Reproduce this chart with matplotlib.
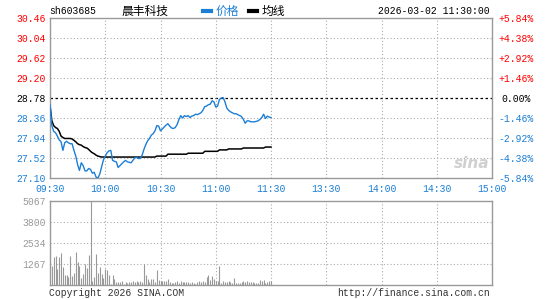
import matplotlib
matplotlib.use("Agg")
import matplotlib.pyplot as plt
import numpy as np

plt.rcParams['font.family'] = ['Liberation Mono', 'Noto Sans CJK SC']

# chart data (one value per minute from 09:30 to 11:30)
price = [28.63, 28.20, 28.08, 28.05, 27.98, 27.90, 27.86, 27.68, 27.84, 27.87,
         27.84, 27.82, 27.82, 27.68, 27.56, 27.38, 27.26, 27.42, 27.36, 27.25,
         27.25, 27.30, 27.28, 27.20, 27.22, 27.12, 27.10, 27.18, 27.33, 27.48,
         27.56, 27.63, 27.67, 27.68, 27.47, 27.45, 27.44, 27.32, 27.36, 27.40,
         27.44, 27.47, 27.44, 27.43, 27.42, 27.47, 27.52, 27.53, 27.51, 27.51,
         27.58, 27.70, 27.80, 27.88, 27.93, 28.00, 28.03, 28.09, 28.20, 28.19,
         28.09, 28.13, 28.17, 28.21, 28.24, 28.19, 28.15, 28.14, 28.16, 28.22,
         28.33, 28.41, 28.36, 28.41, 28.39, 28.41, 28.37, 28.40, 28.41, 28.44,
         28.43, 28.45, 28.47, 28.52, 28.60, 28.61, 28.64, 28.65, 28.72, 28.70,
         28.59, 28.61, 28.75, 28.78, 28.79, 28.70, 28.57, 28.52, 28.49, 28.47,
         28.45, 28.45, 28.43, 28.41, 28.39, 28.33, 28.25, 28.30, 28.30, 28.28,
         28.28, 28.28, 28.29, 28.30, 28.33, 28.37, 28.44, 28.35, 28.40, 28.38,
         28.37]

avg = [28.63, 28.30, 28.20, 28.16, 28.14, 28.08, 27.98, 27.95, 27.93, 27.93,
       27.93, 27.93, 27.92, 27.89, 27.86, 27.82, 27.80, 27.79, 27.76, 27.74,
       27.73, 27.70, 27.66, 27.63, 27.61, 27.58, 27.56, 27.55, 27.54, 27.54,
       27.54, 27.54, 27.54, 27.54, 27.54, 27.54, 27.54, 27.54, 27.54, 27.54,
       27.54, 27.54, 27.54, 27.54, 27.54, 27.54, 27.54, 27.54, 27.54, 27.54,
       27.54, 27.54, 27.54, 27.54, 27.54, 27.54, 27.54, 27.54, 27.56, 27.56,
       27.56, 27.56, 27.56, 27.56, 27.60, 27.60, 27.60, 27.60, 27.60, 27.60,
       27.60, 27.60, 27.60, 27.60, 27.60, 27.62, 27.62, 27.62, 27.62, 27.62,
       27.62, 27.62, 27.62, 27.62, 27.66, 27.66, 27.66, 27.66, 27.66, 27.66,
       27.66, 27.66, 27.69, 27.69, 27.69, 27.69, 27.69, 27.71, 27.71, 27.71,
       27.71, 27.71, 27.71, 27.71, 27.71, 27.73, 27.73, 27.73, 27.73, 27.73,
       27.73, 27.73, 27.73, 27.73, 27.73, 27.73, 27.73, 27.75, 27.75, 27.75,
       27.75]

volume = [240, 1166, 1709, 1750, 965, 1709, 1910, 1106, 603, 603,
          503, 1750, 563, 744, 1970, 1367, 1166, 442, 663, 1246,
          1005, 1809, 5067, 241, 503, 1850, 704, 1106, 663, 442,
          965, 905, 603, 40, 603, 362, 160, 160, 160, 261,
          40, 160, 100, 160, 200, 241, 160, 241, 200, 241,
          160, 1246, 603, 362, 160, 362, 362, 160, 905, 300,
          241, 241, 241, 241, 362, 160, 100, 100, 160, 241,
          100, 241, 160, 160, 160, 160, 100, 160, 100, 40,
          160, 241, 160, 241, 160, 503, 603, 300, 563, 362,
          241, 241, 1166, 100, 241, 160, 160, 241, 160, 100,
          402, 100, 100, 100, 160, 241, 200, 241, 160, 160,
          160, 100, 100, 100, 300, 241, 300, 100, 160, 241,
          241]

prev_close = 28.78
price_levels = [27.10, 27.52, 27.94, 28.36, 28.78, 29.20, 29.62, 30.04, 30.46]
vol_levels = [1267, 2534, 3800, 5067]
time_labels = ["09:30", "10:00", "10:30", "11:00", "11:30", "13:30", "14:00", "14:30", "15:00"]

code = "sh603685"
name = "晨丰科技"
stamp = "2026-03-02 11:30:00"

RED = "#ff0000"
BLUE = "#1c7fd6"
GRAY = "#999999"
GRID = "#aaaaaa"

W, H = 545, 300
fig = plt.figure(figsize=(W / 100, H / 100), dpi=100)


def box(x0, y0, x1, y1):
    return [x0 / W, 1 - y1 / H, (x1 - x0) / W, (y1 - y0) / H]


minutes = np.arange(len(price))
tick_pos = np.arange(0, 241, 30)

# ---- price panel
ax = fig.add_axes(box(50, 18, 492, 178))
ax.set_xlim(0, 240)
ax.set_ylim(price_levels[0], price_levels[-1])
for lv in price_levels[1:-1]:
    if lv == prev_close:
        ax.axhline(lv, color="black", lw=0.9, ls=(0, (2, 2)), zorder=1)
    else:
        ax.axhline(lv, color=GRID, lw=0.8, ls=(0, (1, 2)), zorder=1)
for t in tick_pos[1:-1]:
    ax.axvline(t, color=GRID, lw=0.8, ls=(0, (1, 2)), zorder=1)

p_line, = ax.plot(minutes, price, color=BLUE, lw=1.0, zorder=3)
a_line, = ax.plot(minutes, avg, color="black", lw=1.1, zorder=2)

ax.set_yticks(price_levels)
ax.set_yticklabels([f"{v:.2f}" for v in price_levels], fontsize=7)
for lab, v in zip(ax.get_yticklabels(), price_levels):
    lab.set_color(RED if v > prev_close else ("black" if v == prev_close else BLUE))
ax.set_xticks(tick_pos)
ax.set_xticklabels(time_labels, fontsize=7, color=BLUE)
ax.tick_params(length=0, pad=3)
ax.tick_params(axis="x", pad=4)
for s in ax.spines.values():
    s.set_color(GRAY)
    s.set_linewidth(1)

# percent axis on the right
ax2 = ax.twinx()
ax2.set_ylim(ax.get_ylim())
ax2.set_yticks(price_levels)
pct = [(v - prev_close) / prev_close * 100 for v in price_levels]
ax2.set_yticklabels([("+" if p > 0.001 else "") + f"{p:.2f}%" if abs(p) > 0.001 else "0.00%" for p in pct],
                    fontsize=7)
for lab, p in zip(ax2.get_yticklabels(), pct):
    lab.set_color(RED if p > 0.001 else ("black" if abs(p) <= 0.001 else BLUE))
    lab.set_horizontalalignment("center")
ax2.tick_params(length=0, pad=17)
for s in ax2.spines.values():
    s.set_visible(False)

# watermark
fig.text(472 / W, 1 - 163 / H, "sina", fontsize=11, color="#d0d0d0", style="italic",
         fontweight="bold", family="DejaVu Sans", ha="center", va="center")

# ---- volume panel
vx = fig.add_axes(box(50, 201, 492, 285))
vx.set_xlim(0, 240)
vx.set_ylim(0, vol_levels[-1])
for lv in vol_levels[:-1]:
    vx.axhline(lv, color=GRID, lw=0.8, ls=(0, (1, 2)), zorder=1)
for t in tick_pos[1:-1]:
    vx.axvline(t, color=GRID, lw=0.8, ls=(0, (1, 2)), zorder=1)
vx.vlines(minutes, 0, volume, color=GRAY, lw=0.8, zorder=2)
vx.set_yticks(vol_levels)
vx.set_yticklabels([str(v) for v in vol_levels], fontsize=7, color=GRAY)
vx.set_xticks([])
vx.tick_params(length=0, pad=3)
for s in vx.spines.values():
    s.set_color(GRAY)
    s.set_linewidth(1)

# ---- header and footer
fig.text(49 / W, 1 - 11.5 / H, code, fontsize=7, va="center", ha="left")
fig.text(121 / W, 1 - 11.5 / H, name, fontsize=8.5, va="center", ha="left",
         family=["Noto Sans CJK SC"])
fig.text(490 / W, 1 - 11.5 / H, stamp, fontsize=7, va="center", ha="right")

leg = fig.legend(handles=[p_line, a_line], labels=["价格", "均线"], ncol=2,
                 loc="center left", bbox_to_anchor=(197 / W, 1 - 11.5 / H),
                 frameon=False, borderpad=0, handlelength=0.7, handletextpad=0.4,
                 columnspacing=0.8, prop={"family": ["Noto Sans CJK SC"], "size": 8.5})
for ln in leg.get_lines():
    ln.set_linewidth(3)
leg.get_texts()[0].set_color(BLUE)

fig.text(49 / W, 1 - 293 / H, "Copyright 2026 SINA.COM", fontsize=7, va="center", ha="left", color="#333333")
fig.text(490 / W, 1 - 293 / H, "http://finance.sina.com.cn", fontsize=7, va="center", ha="right", color="#333333")

fig.savefig("out.png", dpi=100)
